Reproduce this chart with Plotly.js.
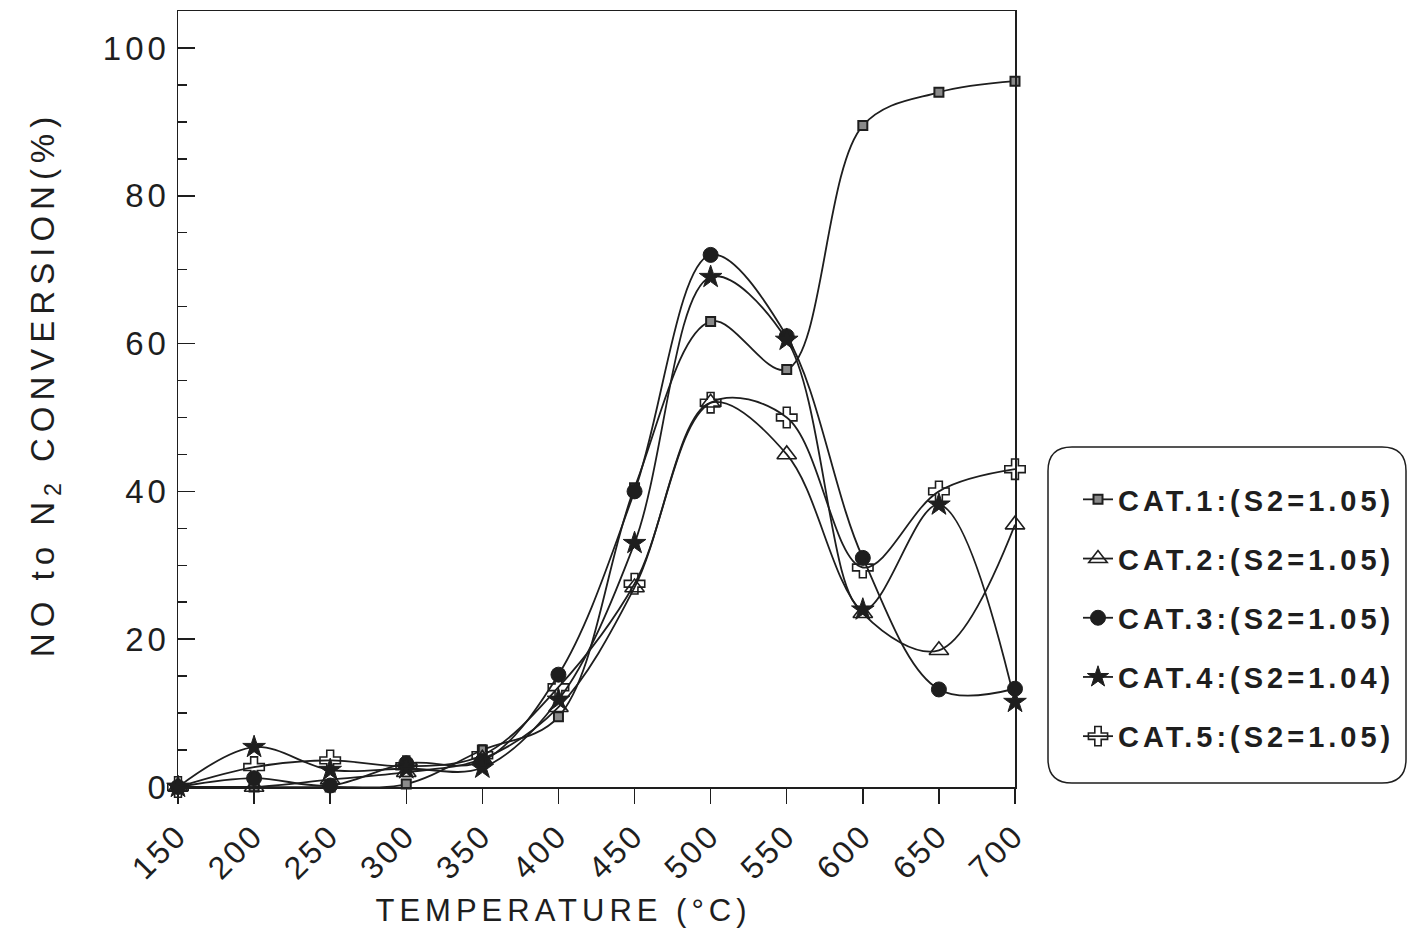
<!DOCTYPE html>
<html>
<head>
<meta charset="utf-8">
<script src="https://cdn.plot.ly/plotly-3.0.1.min.js"></script>
<style>
  html, body { margin: 0; padding: 0; background: #fff; }
  #chart { width: 1408px; height: 933px; }
  .ytick text { letter-spacing: 4px; }
  .xtick text { letter-spacing: 3px; }
  .g-xtitle text { letter-spacing: 5px; }
  .g-ytitle text { letter-spacing: 6px; }
  .g-xtitle { transform: translate(-33px, 0px); }
  .g-ytitle { transform: translate(0px, -15px); }
  .legendtext { letter-spacing: 4px; }
</style>
</head>
<body>
<div id="chart"></div>
<script>
// ---- data ----
const temperature = [150, 200, 250, 300, 350, 400, 450, 500, 550, 600, 650, 700];
const seriesNames = [
  "CAT.1:(S2=1.05)",
  "CAT.2:(S2=1.05)",
  "CAT.3:(S2=1.05)",
  "CAT.4:(S2=1.04)",
  "CAT.5:(S2=1.05)"
];
const cat1 = [0, 0, 0, 0.4, 5.0, 9.5, 40.5, 63.0, 56.5, 89.5, 94.0, 95.5];
const cat2 = [0, 0, 1.0, 2.0, 3.8, 10.8, 27.0, 52.0, 45.0, 23.5, 18.5, 35.5];
const cat3 = [0, 1.2, 0.2, 3.2, 3.5, 15.2, 40.0, 72.0, 61.0, 31.0, 13.2, 13.3];
const cat4 = [0, 5.4, 2.3, 2.5, 2.6, 11.8, 33.0, 69.0, 60.5, 24.0, 38.2, 11.5];
const cat5 = [0, 2.7, 3.6, 2.8, 4.3, 13.5, 27.5, 52.0, 50.0, 29.7, 40.0, 43.0];
const xTicks = [150, 200, 250, 300, 350, 400, 450, 500, 550, 600, 650, 700];
const yTicks = [0, 20, 40, 60, 80, 100];

const ink = "#1e1e1e";
const markerStyles = [
  {symbol: "square", size: 9, color: "#8a8a8a", line: {color: ink, width: 2}},
  {symbol: "triangle-up-open", size: 17, color: ink, line: {color: ink, width: 1.6}},
  {symbol: "circle", size: 15, color: ink, line: {color: ink, width: 1}},
  {symbol: "star", size: 17, color: ink, line: {color: ink, width: 1}},
  {symbol: "cross-open", size: 17, color: ink, line: {color: ink, width: 1.6}}
];
const allSeries = [cat1, cat2, cat3, cat4, cat5];

const traces = allSeries.map((vals, i) => ({
  type: "scatter",
  mode: "lines+markers",
  x: temperature,
  y: vals,
  name: seriesNames[i],
  legendgroup: "g" + i,
  line: {color: ink, width: 1.8, shape: "spline", smoothing: 1},
  marker: markerStyles[i],
  cliponaxis: false
}));

// rounded legend frame (decoration), pixel -> paper helpers
const L = 178, R = 1015, T = 11, B = 787;
const px = v => (v - L) / (R - L);
const py = v => (B - v) / (B - T);
function roundRect(x0, y0, x1, y1, r) {
  const p = (x, y) => px(x) + "," + py(y);
  return "M" + p(x0 + r, y0) + " L" + p(x1 - r, y0) + " Q" + p(x1, y0) + " " + p(x1, y0 + r) +
         " L" + p(x1, y1 - r) + " Q" + p(x1, y1) + " " + p(x1 - r, y1) +
         " L" + p(x0 + r, y1) + " Q" + p(x0, y1) + " " + p(x0, y1 - r) +
         " L" + p(x0, y0 + r) + " Q" + p(x0, y0) + " " + p(x0 + r, y0) + " Z";
}

const font = "Liberation Sans, Arial, Helvetica, sans-serif";

const layout = {
  width: 1408,
  height: 933,
  paper_bgcolor: "#ffffff",
  plot_bgcolor: "#ffffff",
  margin: {l: L, r: 1408 - R, t: T, b: 933 - B, autoexpand: false},
  font: {family: font, color: ink, size: 30},
  showlegend: true,
  legend: {
    x: px(1078), xanchor: "left",
    y: py(474), yanchor: "top",
    bgcolor: "rgba(0,0,0,0)",
    borderwidth: 0,
    tracegroupgap: 18.5,
    itemwidth: 30,
    font: {family: font, size: 29, weight: "bold", color: ink}
  },
  xaxis: {
    range: [150, 700],
    tickmode: "array",
    tickvals: xTicks,
    ticktext: xTicks.map(String),
    tickangle: -45,
    ticks: "outside",
    ticklen: 15,
    tickwidth: 1.5,
    tickcolor: ink,
    showline: true,
    linecolor: ink,
    linewidth: 1.5,
    mirror: true,
    showgrid: false,
    zeroline: false,
    tickfont: {family: font, size: 32, color: ink},
    title: {text: "TEMPERATURE (°C)", font: {family: font, size: 31, color: ink}, standoff: 14}
  },
  yaxis: {
    range: [0, 105],
    tickmode: "array",
    tickvals: yTicks,
    ticktext: yTicks.map(String),
    ticks: "inside",
    ticklen: 17,
    tickwidth: 1.5,
    tickcolor: ink,
    minor: {tickmode: "linear", tick0: 0, dtick: 5, ticks: "inside", ticklen: 9, tickwidth: 1.5, tickcolor: ink, showgrid: false},
    showline: true,
    linecolor: ink,
    linewidth: 1.5,
    mirror: true,
    showgrid: false,
    zeroline: false,
    tickfont: {family: font, size: 33, color: ink},
    title: {text: "NO to N<sub>2</sub> CONVERSION(%)", font: {family: font, size: 33, color: ink}, standoff: 38}
  },
  shapes: [{
    type: "path",
    xref: "paper", yref: "paper",
    path: roundRect(1048, 447, 1406, 783, 24),
    line: {color: ink, width: 1.5},
    fillcolor: "rgba(0,0,0,0)",
    layer: "below"
  }]
};

Plotly.newPlot("chart", traces, layout, {displayModeBar: false, staticPlot: true});
</script>
</body>
</html>
